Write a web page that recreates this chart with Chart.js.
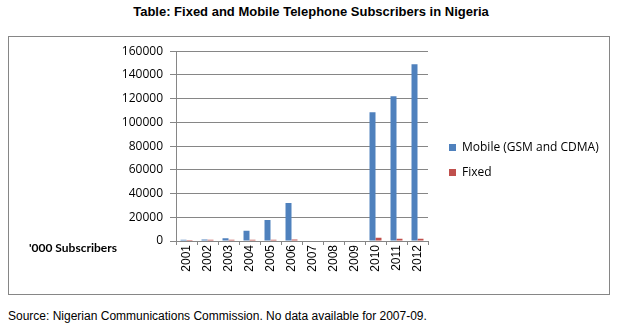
<!DOCTYPE html>
<html>
<head>
<meta charset="utf-8">
<script src="https://cdn.jsdelivr.net/npm/chart.js@4/dist/chart.umd.min.js"></script>
<style>
  body { margin: 0; width: 618px; height: 326px; background: #fff; position: relative; overflow: hidden; }
  #title { position: absolute; top: 4px; left: 0; width: 622px; text-align: center; font: bold 13px "Liberation Sans", Arial, sans-serif; color: #000; }
  #box { position: absolute; left: 8px; top: 36px; width: 600px; height: 257px; border: 1px solid #868686; }
  #yname { position: absolute; left: 29px; top: 240px; font: bold 12px Lato, sans-serif; color: #000; }
  #source { position: absolute; left: 8px; top: 309px; font: 12px "Liberation Sans", Arial, sans-serif; color: #000; }
</style>
</head>
<body>
<div id="title">Table: Fixed and Mobile Telephone Subscribers in Nigeria</div>
<div id="box"><canvas id="chart" width="600" height="257"></canvas></div>
<div id="yname">'000 Subscribers</div>
<div id="source">Source: Nigerian Communications Commission. No data available for 2007-09.</div>
<script>
// valeurs (en milliers d'abonnés)
const years = ['2001', '2002', '2003', '2004', '2005', '2006', '2007', '2008', '2009', '2010', '2011', '2012'];
const mobile = [1000, 1200, 2400, 8600, 17700, 32000, null, null, null, 108500, 122000, 149000];
const fixed = [900, 1000, 1000, 1100, 1100, 1200, null, null, null, 2800, 1900, 1800];
const yTicks = [0, 20000, 40000, 60000, 80000, 100000, 120000, 140000, 160000];

const gridColor = '#868686';

// légende à droite : largeur fixe puis décalée comme dans l'original
const legendSpot = {
    id: 'legendSpot',
    afterInit(chart) {
        const legend = chart.legend;
        const fit = legend.fit;
        legend.fit = function () {
            fit.call(this);
            this.width = 181;
        };
    },
    afterLayout(chart) {
        chart.legend.left += 8;
        chart.legend.bottom -= 25; // centrer les items plus haut
    }
};

const ctx = document.getElementById('chart').getContext('2d');
const chart = new Chart(ctx, {
    type: 'bar',
    data: {
        labels: years,
        datasets: [{
            label: 'Mobile (GSM and CDMA)',
            data: mobile,
            backgroundColor: '#4F81BD',
            borderWidth: 0
        }, {
            label: 'Fixed',
            data: fixed,
            backgroundColor: '#C0504D',
            borderWidth: 0
        }]
    },
    options: {
        responsive: false,
        animation: false,
        barPercentage: 1,
        categoryPercentage: 0.57,
        layout: { padding: { top: 14, left: 0, right: 0, bottom: 0 } },
        plugins: {
            tooltip: { enabled: false },
            legend: {
                position: 'right',
                labels: {
                    boxWidth: 7,
                    boxHeight: 7,
                    padding: 13,
                    color: '#000',
                    font: { family: 'Open Sans', size: 12 }
                }
            }
        },
        scales: {
            x: {
                grid: { drawOnChartArea: false, tickLength: 4, color: gridColor },
                border: { color: gridColor },
                ticks: {
                    minRotation: 90,
                    maxRotation: 90,
                    padding: 0,
                    color: '#000',
                    font: { family: 'Liberation Sans', size: 12 }
                },
                afterFit(scale) { scale.height = 53; }
            },
            y: {
                min: 0,
                max: 160000,
                afterBuildTicks(scale) { scale.ticks = yTicks.map(v => ({ value: v })); },
                grid: { color: gridColor, tickLength: 6 },
                border: { color: gridColor },
                ticks: {
                    padding: 7,
                    color: '#000',
                    font: { family: 'Open Sans', size: 12 },
                    callback: v => String(v)
                },
                afterFit(scale) { scale.width = 167; }
            }
        }
    },
    plugins: [legendSpot]
});
</script>
</body>
</html>
